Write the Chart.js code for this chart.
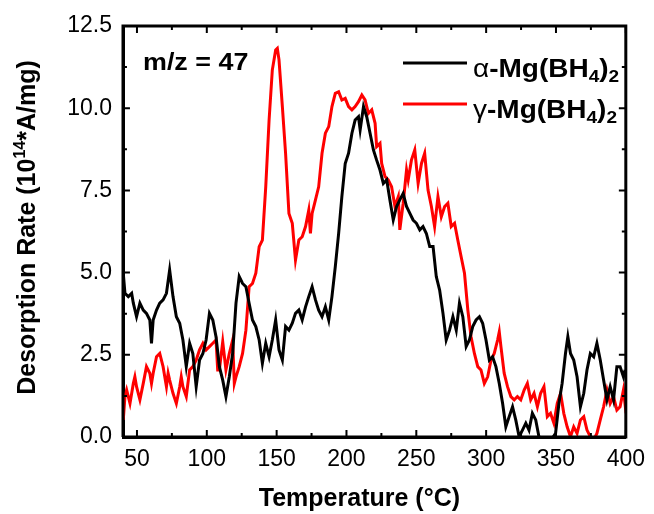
<!DOCTYPE html>
<html>
<head>
<meta charset="utf-8">
<script src="https://cdn.jsdelivr.net/npm/chart.js@4"></script>
<style>
html,body{margin:0;padding:0;background:#fff;}
</style>
</head>
<body>
<canvas id="c" width="654" height="514"></canvas>
<script>
// ---- data ----
const tempAlpha = [40.2,41.4,43.8,46.2,47.4,49.7,52.1,54.5,56.8,59.2,60.4,61.6,64.0,66.3,68.7,71.1,73.4,75.8,78.2,80.6,82.9,85.3,87.7,90.0,92.4,94.8,97.2,99.5,101.9,104.3,106.6,109.0,111.4,113.7,116.1,118.5,120.9,123.2,125.6,128.0,130.3,132.7,135.1,137.5,139.8,142.2,144.6,146.9,149.3,151.7,154.1,156.4,158.8,161.2,163.5,165.9,168.3,170.7,173.0,175.4,177.8,180.1,182.5,184.9,187.3,189.6,192.0,194.4,196.7,199.1,201.5,203.9,206.2,208.6,209.8,212.2,214.5,216.9,219.3,221.6,224.0,226.4,228.8,231.1,233.5,235.9,238.2,240.6,243.0,245.4,247.7,250.1,252.5,254.8,257.2,259.6,262.0,264.3,266.7,269.1,271.4,273.8,276.2,278.6,280.9,283.3,285.7,288.0,290.4,292.8,295.2,297.5,299.9,302.3,304.6,307.0,309.4,311.8,314.1,316.5,318.9,321.2,323.6,326.0,328.4,330.7,333.1,335.5,337.8,340.2,345.0,349.7,352.1,354.4,356.8,358.5,360.4,362.7,365.1,367.5,369.9,372.2,374.6,377.0,379.3,381.7,384.1,386.5,388.8,391.2,393.6,395.9,398.3,399.5];
const rateAlpha = [4.98,4.37,4.27,4.37,4.07,3.66,4.07,3.86,3.76,3.56,2.85,3.56,3.86,4.07,4.17,4.37,5.08,4.27,3.66,3.46,2.95,2.14,2.85,2.54,1.53,2.34,2.54,2.95,3.76,3.56,3.05,2.14,1.73,1.23,1.83,2.54,4.07,4.88,4.67,4.57,4.07,3.56,3.36,2.95,2.24,2.85,2.44,2.95,3.56,2.65,2.34,3.36,3.25,3.46,3.76,3.86,3.56,3.96,4.27,4.57,4.17,3.86,3.66,3.96,3.56,4.27,5.18,6.19,7.31,8.32,8.63,9.24,9.64,9.74,9.34,10.05,9.74,9.24,8.73,8.42,8.12,7.71,7.82,7.21,6.60,7.01,7.21,7.41,7.01,6.80,6.60,6.50,6.30,6.40,6.19,5.79,5.79,4.88,4.47,3.76,2.95,3.25,3.66,3.25,4.07,3.66,2.75,2.95,3.36,3.56,3.66,3.46,2.95,2.34,2.44,2.14,1.63,1.02,0.31,0.62,0.92,0.52,0.01,0.21,0.42,0.21,0.72,0.52,0.01,-0.09,-0.19,0.11,1.02,1.63,2.54,3.05,2.54,2.34,1.83,0.92,1.33,2.04,2.54,2.44,2.85,2.34,1.73,1.13,1.53,1.13,2.14,2.14,1.83,2.04];
const tempGamma = [40.2,41.4,42.6,45.0,47.4,48.5,49.7,52.1,54.5,56.8,59.2,60.4,61.6,64.0,66.3,68.7,71.1,72.3,73.4,75.8,78.2,80.6,81.7,82.9,85.3,87.7,90.0,92.4,94.8,97.2,99.5,101.9,104.3,106.6,107.8,109.0,111.4,113.7,116.1,118.5,119.7,120.9,123.2,125.6,128.0,130.3,132.7,135.1,137.5,139.8,142.2,144.6,146.9,149.3,150.5,151.7,154.1,156.4,158.8,161.2,163.5,165.9,168.3,170.7,173.0,174.2,175.4,177.8,180.1,182.5,184.9,187.3,189.6,192.0,194.4,196.7,199.1,201.5,203.9,206.2,208.6,211.0,213.3,215.7,218.1,220.5,221.6,224.0,225.2,227.6,229.9,232.3,234.7,237.1,238.2,240.6,243.0,244.2,246.5,248.9,251.3,253.7,256.0,258.4,260.8,263.1,265.5,267.9,270.3,272.6,275.0,277.4,279.7,282.1,284.5,286.9,289.2,291.6,294.0,296.3,298.7,301.1,303.5,305.8,308.2,309.4,310.6,312.9,315.3,317.7,320.1,322.4,324.8,327.2,329.5,331.9,334.3,336.7,339.0,341.4,343.8,346.1,348.5,350.9,353.3,355.6,358.0,360.4,362.7,365.1,367.5,369.9,372.2,374.6,377.0,379.3,381.7,384.1,386.5,388.8,391.2,393.6,395.9,398.3,400.2];
const rateGamma = [0.52,1.23,1.43,1.02,1.63,1.83,1.53,1.13,1.63,2.14,1.94,1.63,1.94,2.44,2.54,2.14,1.53,1.94,1.73,1.33,1.02,1.53,1.83,1.53,1.23,2.04,2.14,2.34,2.65,2.85,2.65,2.75,2.85,2.95,2.04,2.04,2.90,2.04,2.54,2.95,1.63,1.83,2.14,2.54,3.25,4.57,4.67,4.98,5.79,5.99,7.61,9.64,11.16,11.77,11.82,11.47,10.05,8.63,6.80,6.50,5.38,5.99,6.09,6.40,6.90,6.19,6.80,7.21,7.61,8.63,9.24,9.44,10.05,10.45,10.50,10.25,10.30,10.05,9.95,10.05,10.20,10.40,10.25,9.84,9.95,9.54,8.83,8.93,8.32,7.92,7.82,7.61,7.01,7.31,6.30,7.11,8.12,7.82,8.42,8.73,7.71,8.32,8.63,7.51,7.01,6.40,7.31,6.70,7.01,7.11,6.40,6.50,5.99,5.48,4.98,3.86,3.05,2.54,2.14,2.04,1.63,1.83,2.34,2.54,2.95,3.20,2.75,1.94,1.53,1.23,1.13,1.23,1.13,1.43,1.63,1.13,1.33,0.92,1.33,1.53,0.62,0.72,0.42,1.02,1.33,0.72,0.31,0.01,0.31,0.11,0.52,0.62,0.21,0.01,-0.09,0.11,0.52,0.92,1.43,1.02,1.23,0.82,0.92,1.43,0.72];
const xTicks = [50,100,150,200,250,300,350,400];
const yTicks = [0,2.5,5,7.5,10,12.5];
const xMinor = [75,125,175,225,275,325,375];
const yMinor = [1.25,3.75,6.25,8.75,11.25];
const seriesNames = ['α-Mg(BH', 'γ-Mg(BH'];
const annotationText = 'm/z = 47';
const xTitle = 'Temperature (°C)';

const X_MIN = 40, X_MAX = 400, Y_MIN = 0, Y_MAX = 12.5;
const FONT = '"Liberation Sans", Arial, sans-serif';

// approximate plot size in px, used to convert tick-mark lengths into axis units
const PLOT_W = 506, PLOT_H = 411;
const ux = (X_MAX - X_MIN) / PLOT_W, uy = (Y_MAX - Y_MIN) / PLOT_H;

function tickSegments(len) {
  const pts = [];
  const gap = {x: null, y: null};
  const addX = (vals, l) => vals.forEach(v => {
    pts.push({x: v, y: Y_MIN}, {x: v, y: Y_MIN + l * uy}, gap);
    pts.push({x: v, y: Y_MAX}, {x: v, y: Y_MAX - l * uy}, gap);
  });
  const addY = (vals, l) => vals.forEach(v => {
    pts.push({x: X_MIN, y: v}, {x: X_MIN + l * ux, y: v}, gap);
    pts.push({x: X_MAX, y: v}, {x: X_MAX - l * ux, y: v}, gap);
  });
  if (len === 'major') { addX(xTicks, 7); addY(yTicks, 7); }
  else { addX(xMinor, 4); addY(yMinor, 4); }
  return pts;
}
const framePts = [{x: X_MIN, y: Y_MIN}, {x: X_MAX, y: Y_MIN}, {x: X_MAX, y: Y_MAX}, {x: X_MIN, y: Y_MAX}, {x: X_MIN, y: Y_MIN}];

const labels = {
  id: 'labelsText',
  afterDraw(chart) {
    const ctx = chart.ctx, a = chart.chartArea;
    const L = a.left, R = a.right, T = a.top, B = a.bottom;
    ctx.save();
    ctx.fillStyle = '#000';
    ctx.textAlign = 'left';
    ctx.textBaseline = 'alphabetic';
    ctx.save();
    ctx.translate(L + 20, T + 44);
    ctx.scale(1.12, 1);
    ctx.font = 'bold 24px ' + FONT;
    ctx.fillText(annotationText, 0, 0);
    ctx.restore();

    const colors = ['#000000', '#ff0000'];
    const greek = ['α', 'γ'];
    seriesNames.forEach((nm, i) => {
      const ly = T + 37 + i * 41;
      const by = T + 51 + i * 41;
      ctx.strokeStyle = colors[i];
      ctx.lineWidth = 3;
      ctx.beginPath(); ctx.moveTo(L + 280, ly); ctx.lineTo(L + 344, ly); ctx.stroke();
      ctx.save();
      ctx.translate(L + 350, by);
      ctx.scale(1.12, 1);
      let x = 0;
      ctx.font = '25px ' + FONT;
      ctx.fillText(greek[i], x, 0);
      x += ctx.measureText(greek[i]).width;
      ctx.font = 'bold 25px ' + FONT;
      const rest = nm.slice(1);
      ctx.fillText(rest, x, 0);
      x += ctx.measureText(rest).width;
      ctx.font = 'bold 17px ' + FONT;
      ctx.fillText('4', x, 5);
      x += ctx.measureText('4').width;
      ctx.font = 'bold 25px ' + FONT;
      ctx.fillText(')', x, 0);
      x += ctx.measureText(')').width;
      ctx.font = 'bold 17px ' + FONT;
      ctx.fillText('2', x, 5);
      ctx.restore();
    });

    ctx.font = 'bold 25px ' + FONT;
    ctx.textAlign = 'center';
    ctx.fillText(xTitle, (L + R) / 2 - 15, 506);

    ctx.save();
    ctx.translate(35, (T + B) / 2 - 4);
    ctx.rotate(-Math.PI / 2);
    const p1 = 'Desorption Rate (10', sup = '14', p2 = '*A/mg)';
    ctx.font = 'bold 25px ' + FONT;
    const w1 = ctx.measureText(p1).width, w3 = ctx.measureText(p2).width;
    ctx.font = 'bold 16px ' + FONT;
    const w2 = ctx.measureText(sup).width;
    let tx = -(w1 + w2 + w3) / 2;
    ctx.textAlign = 'left';
    ctx.font = 'bold 25px ' + FONT;
    ctx.fillText(p1, tx, 0); tx += w1;
    ctx.font = 'bold 16px ' + FONT;
    ctx.fillText(sup, tx, -10); tx += w2;
    ctx.font = 'bold 25px ' + FONT;
    ctx.fillText(p2, tx, 0);
    ctx.restore();
    ctx.restore();
  }
};

const toPts = (xs, ys) => xs.map((x, i) => ({x, y: ys[i]}));
const axisLine = (data, w) => ({data, showLine: true, borderColor: '#000000', borderWidth: w, pointRadius: 0, clip: false, spanGaps: false, borderCapStyle: 'butt'});

new Chart(document.getElementById('c'), {
  type: 'scatter',
  data: {
    datasets: [
      Object.assign({label: 'frame'}, axisLine(framePts, 3), {borderJoinStyle: 'miter'}),
      Object.assign({label: 'major ticks'}, axisLine(tickSegments('major'), 2)),
      Object.assign({label: 'minor ticks'}, axisLine(tickSegments('minor'), 2)),
      {label: 'α', data: toPts(tempAlpha, rateAlpha), showLine: true, borderColor: '#000000', borderWidth: 3, pointRadius: 0},
      {label: 'γ', data: toPts(tempGamma, rateGamma), showLine: true, borderColor: '#ff0000', borderWidth: 3, pointRadius: 0}
    ]
  },
  options: {
    responsive: false,
    animation: false,
    devicePixelRatio: 1,
    layout: {padding: {top: 26, right: 22, left: 0, bottom: 0}},
    plugins: {legend: {display: false}, tooltip: {enabled: false}},
    scales: {
      x: {
        type: 'linear', min: X_MIN, max: X_MAX,
        afterBuildTicks: s => { s.ticks = xTicks.map(v => ({value: v})); },
        afterFit: s => { s.height = 77; },
        grid: {display: false, drawTicks: false},
        border: {display: true, color: '#000', width: 3},
        ticks: {color: '#000', font: {family: FONT, size: 23}, padding: 9, maxRotation: 0, autoSkip: false}
      },
      y: {
        type: 'linear', min: Y_MIN, max: Y_MAX,
        afterBuildTicks: s => { s.ticks = yTicks.map(v => ({value: v})); },
        afterFit: s => { s.width = 123; },
        grid: {display: false, drawTicks: false},
        border: {display: true, color: '#000', width: 3},
        ticks: {color: '#000', font: {family: FONT, size: 23}, padding: 11, autoSkip: false,
          callback: v => v.toFixed(1)}
      }
    }
  },
  plugins: [labels]
});
</script>
</body>
</html>
